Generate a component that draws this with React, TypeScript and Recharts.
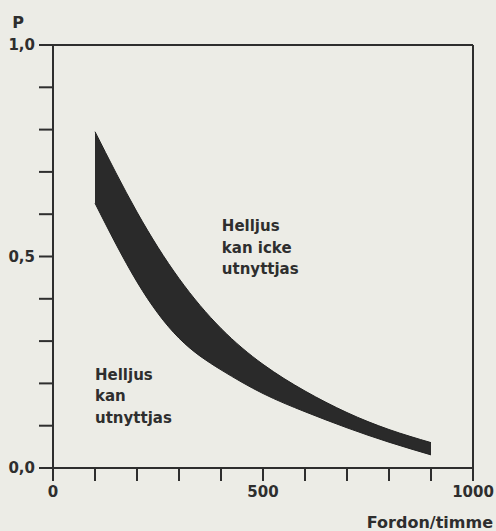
import React from 'react';
import {
    ComposedChart,
    Area,
    XAxis,
    YAxis,
    ReferenceLine,
    ReferenceDot,
} from 'recharts';

// Fordon/timme (vehicles per hour)
const flows = [100, 200, 300, 400, 500, 600, 700, 800, 900];
// upper and lower edge of the shaded band, P
const upperP = [0.795, 0.605, 0.448, 0.33, 0.245, 0.182, 0.131, 0.091, 0.06];
const lowerP = [0.626, 0.44, 0.307, 0.232, 0.176, 0.133, 0.095, 0.061, 0.031];

const xTicks = [0, 100, 200, 300, 400, 500, 600, 700, 800, 900, 1000];
const xLabelled = [0, 500, 1000];
const yTicks = [0, 0.1, 0.2, 0.3, 0.4, 0.5, 0.6, 0.7, 0.8, 0.9, 1.0];
const yLabelled = [0, 0.5, 1.0];

const noteAbove = ['Helljus', 'kan icke', 'utnyttjas'];
const noteBelow = ['Helljus', 'kan', 'utnyttjas'];

const INK = '#2e2e2e';
const FONT = '"DejaVu Sans", Verdana, sans-serif';

const data = flows.map((x, i) => ({ x, band: [lowerP[i], upperP[i]] }));

const noteLabel = (lines: string[]) => (props: any) => {
    const { viewBox } = props;
    const cx = viewBox.x + (viewBox.width || 0) / 2;
    const cy = viewBox.y + (viewBox.height || 0) / 2;
    return (
        <text x={cx} y={cy + 5} fill={INK} fontFamily={FONT} fontWeight="bold" fontSize={15}>
            {lines.map((l, i) => (
                <tspan key={i} x={cx} dy={i === 0 ? 0 : 21.5}>
                    {l}
                </tspan>
            ))}
        </text>
    );
};

export default function App() {
    return (
        <div style={{ position: 'absolute', left: 0, top: 0, width: 496, height: 531, background: '#ecece6' }}>
            <ComposedChart
                width={496}
                height={531}
                data={data}
                margin={{ top: 45, right: 23, bottom: 23, left: 8 }}
            >
                <XAxis
                    type="number"
                    dataKey="x"
                    domain={[0, 1000]}
                    ticks={xTicks}
                    interval={0}
                    height={40}
                    stroke={INK}
                    strokeWidth={2}
                    tickSize={13}
                    tickMargin={5}
                    tick={{ fill: INK, fontSize: 15, fontWeight: 'bold', fontFamily: FONT }}
                    tickFormatter={(v: number) => (xLabelled.includes(v) ? String(v) : '')}
                    label={{
                        content: (p: any) => (
                            <text
                                x={p.viewBox.x + p.viewBox.width + 20}
                                y={p.viewBox.y + 60}
                                textAnchor="end"
                                fill={INK}
                                fontFamily={FONT}
                                fontWeight="bold"
                                fontSize={16}
                            >
                                Fordon/timme
                            </text>
                        ),
                    }}
                />
                <YAxis
                    type="number"
                    domain={[0, 1]}
                    ticks={yTicks}
                    interval={0}
                    width={45}
                    stroke={INK}
                    strokeWidth={2}
                    tickSize={14}
                    tickMargin={4}
                    tick={{ fill: INK, fontSize: 15, fontWeight: 'bold', fontFamily: FONT }}
                    tickFormatter={(v: number) =>
                        yLabelled.some((t) => Math.abs(t - v) < 1e-6) ? v.toFixed(1).replace('.', ',') : ''
                    }
                    label={{
                        content: (p: any) => (
                            <text
                                x={p.viewBox.x + p.viewBox.width - 35}
                                y={p.viewBox.y - 17}
                                textAnchor="middle"
                                fill={INK}
                                fontFamily={FONT}
                                fontWeight="bold"
                                fontSize={16}
                            >
                                P
                            </text>
                        ),
                    }}
                />
                <ReferenceLine y={1} stroke={INK} strokeWidth={2} />
                <ReferenceLine x={1000} stroke={INK} strokeWidth={2} />
                <Area
                    type="natural"
                    dataKey="band"
                    fill="#2a2a2a"
                    fillOpacity={1}
                    stroke="#222"
                    strokeWidth={1}
                    isAnimationActive={false}
                />
                <ReferenceDot x={402} y={0.572} r={1} fill="none" stroke="none" label={{ content: noteLabel(noteAbove) }} />
                <ReferenceDot x={100} y={0.22} r={1} fill="none" stroke="none" label={{ content: noteLabel(noteBelow) }} />
            </ComposedChart>
        </div>
    );
}
